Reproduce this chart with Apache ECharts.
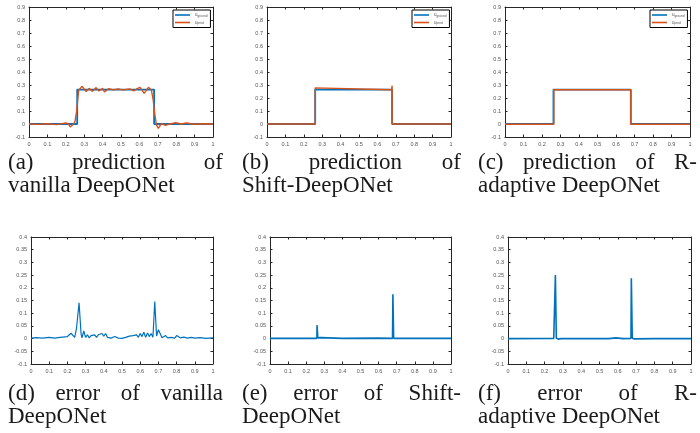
<!DOCTYPE html>
<html>
<head>
<meta charset="utf-8">
<script src="https://cdn.jsdelivr.net/npm/echarts@6/dist/echarts.min.js"></script>
<style>
  html, body { margin: 0; background: #fff; }
  #chart { width: 700px; height: 433px; }
</style>
</head>
<body>
<div id="chart"></div>
<script>
// ---- data ----
// ground truth (same step in all three panels)
const groundX = [0, 0.262, 0.262, 0.68, 0.68, 1];
const groundY = [0, 0, 0.265, 0.265, 0, 0];

// (a) vanilla DeepONet prediction
const predAX = [0, 0.05, 0.1, 0.15, 0.2, 0.212, 0.224, 0.24, 0.25, 0.259, 0.27, 0.289, 0.31, 0.327, 0.345, 0.363, 0.38, 0.4, 0.41, 0.434, 0.457, 0.485, 0.51, 0.548, 0.57, 0.59, 0.604, 0.626, 0.649, 0.665, 0.675, 0.683, 0.693, 0.703, 0.72, 0.741, 0.765, 0.797, 0.828, 0.855, 0.9, 0.95, 1];
const predAY = [0, -0.003, 0.002, -0.005, 0.008, 0.004, -0.023, -0.004, 0.02, 0.1, 0.26, 0.29, 0.25, 0.274, 0.251, 0.28, 0.254, 0.274, 0.246, 0.272, 0.262, 0.27, 0.262, 0.27, 0.254, 0.274, 0.282, 0.236, 0.282, 0.262, 0.185, 0.08, -0.008, -0.033, 0.005, -0.01, 0, 0.01, 0, 0.008, -0.002, 0.002, 0];

// (b) Shift-DeepONet prediction
const predBX = [0, 0.262, 0.262, 0.264, 0.677, 0.68, 0.68, 1];
const predBY = [0, 0, 0.278, 0.263, 0.263, 0.295, 0, 0];

// (c) R-adaptive DeepONet prediction
const predCX = [0, 0.264, 0.264, 0.68, 0.68, 1];
const predCY = [-0.002, -0.002, 0.263, 0.263, -0.002, -0.002];

// (d) error of vanilla DeepONet
const errDX = [0, 0.03, 0.06, 0.1, 0.13, 0.16, 0.2, 0.21, 0.22, 0.23, 0.24, 0.25, 0.264, 0.275, 0.28, 0.29, 0.3, 0.31, 0.32, 0.33, 0.34, 0.35, 0.36, 0.37, 0.38, 0.39, 0.4, 0.41, 0.42, 0.43, 0.44, 0.46, 0.48, 0.5, 0.52, 0.54, 0.55, 0.56, 0.57, 0.58, 0.59, 0.6, 0.61, 0.62, 0.63, 0.64, 0.65, 0.66, 0.67, 0.68, 0.69, 0.7, 0.71, 0.72, 0.73, 0.74, 0.75, 0.77, 0.79, 0.8, 0.82, 0.84, 0.86, 0.88, 0.9, 0.93, 0.96, 1];
const errDY = [0.002, 0.004, 0.002, 0.005, 0.002, 0.005, 0.008, 0.003, 0.021, 0.02, 0.005, 0.04, 0.141, 0.02, 0.003, 0.03, 0.005, 0.015, 0.003, 0.012, 0.005, 0.015, 0.005, 0.015, 0.008, 0.02, 0.01, 0.02, 0.005, 0.012, 0.002, 0.008, 0.002, 0.001, 0.005, 0.01, 0.003, 0.012, 0.005, 0.015, 0.005, 0.02, 0.008, 0.025, 0.005, 0.022, 0.008, 0.02, 0.005, 0.146, 0.01, 0.035, 0.04, 0.003, 0.008, 0.012, 0.003, 0.005, 0.002, 0.012, 0.003, 0.006, 0.002, 0.005, 0.002, 0.004, 0.001, 0.003];

// (e) error of Shift-DeepONet
const errEX = [0, 0.2, 0.259, 0.26, 0.262, 0.264, 0.28, 0.4, 0.6, 0.677, 0.679, 0.681, 0.683, 0.8, 1];
const errEY = [0.001, 0.001, 0.001, 0.053, 0.053, 0.003, 0.004, 0.001, 0.002, 0.001, 0.175, 0.175, 0.001, 0.001, 0.001];

// (f) error of R-adaptive DeepONet
const errFX = [0, 0.25, 0.257, 0.259, 0.262, 0.264, 0.275, 0.29, 0.4, 0.55, 0.59, 0.63, 0.672, 0.674, 0.677, 0.679, 0.69, 0.8, 1];
const errFY = [0, 0.001, 0.001, 0.25, 0.25, 0.001, -0.002, 0, 0, 0, 0.003, 0, 0.001, 0.238, 0.238, 0.001, -0.001, 0, 0];

// tick settings
const xTicks = { min: 0, max: 1, interval: 0.1 };
const predTicks = { min: -0.1, max: 0.9, interval: 0.1 };
const errTicks = { min: -0.1, max: 0.4, interval: 0.05 };

const captions = [
  { x0: 8,   x1: 223, y1: 163, y2: 186, l1: '(a) prediction of', l2: 'vanilla DeepONet' },
  { x0: 242, x1: 461, y1: 163, y2: 186, l1: '(b) prediction of', l2: 'Shift-DeepONet' },
  { x0: 478, x1: 697, y1: 163, y2: 186, l1: '(c) prediction of R-', l2: 'adaptive DeepONet' },
  { x0: 8,   x1: 223, y1: 394, y2: 417, l1: '(d) error of vanilla', l2: 'DeepONet' },
  { x0: 242, x1: 461, y1: 394, y2: 417, l1: '(e) error of Shift-', l2: 'DeepONet' },
  { x0: 478, x1: 697, y1: 394, y2: 417, l1: '(f) error of R-', l2: 'adaptive DeepONet' }
];

// ---- layout ----
const BLUE = '#0072BD', ORANGE = '#D95319', AXIS = '#262626';
const grids = [
  { left: 29,  top: 7,   width: 184, height: 130 },
  { left: 267, top: 7,   width: 184, height: 130 },
  { left: 505, top: 7,   width: 185, height: 130 },
  { left: 31,  top: 237, width: 182, height: 127 },
  { left: 270, top: 237, width: 181, height: 127 },
  { left: 508, top: 237, width: 183, height: 127 }
];

const fmt = v => String(+v.toFixed(2));
const zip = (xs, ys) => xs.map((x, i) => [x, ys[i]]);

function axis(gi, ticks, position, labels) {
  return Object.assign({
    type: 'value', gridIndex: gi, position,
    axisLine: { show: true, onZero: false, lineStyle: { color: AXIS, width: 1 } },
    axisTick: { show: true, inside: true, length: 2.5, lineStyle: { color: AXIS } },
    axisLabel: { show: labels, fontSize: 5.5, color: '#555', margin: 4, fontFamily: 'Liberation Sans', formatter: fmt },
    splitLine: { show: false }
  }, ticks);
}

const xAxis = [], yAxis = [];
grids.forEach((g, i) => {
  const yt = i < 3 ? predTicks : errTicks;
  xAxis.push(axis(i, xTicks, 'bottom', true), axis(i, xTicks, 'top', false));
  yAxis.push(axis(i, yt, 'left', true), axis(i, yt, 'right', false));
});

function line(name, i, xs, ys, color, width) {
  return {
    name, type: 'line', xAxisIndex: 2 * i, yAxisIndex: 2 * i,
    data: zip(xs, ys), showSymbol: false, symbol: 'none',
    lineStyle: { color, width }, itemStyle: { color }, clip: true
  };
}

const series = [
  line('ground', 0, groundX, groundY, BLUE, 1.8),
  line('pred', 0, predAX, predAY, ORANGE, 1.4),
  line('ground', 1, groundX, groundY, BLUE, 1.8),
  line('pred', 1, predBX, predBY, ORANGE, 1.4),
  line('ground', 2, groundX, groundY, BLUE, 1.8),
  line('pred', 2, predCX, predCY, ORANGE, 1.4),
  line('error', 3, errDX, errDY, BLUE, 1.2),
  line('error', 4, errEX, errEY, BLUE, 1.6),
  line('error', 5, errFX, errFY, BLUE, 1.6)
];

const legendPos = [[173, 10], [412, 10], [650, 10]];
const legend = legendPos.map(p => ({
  data: ['ground', 'pred'], left: p[0], top: p[1], orient: 'vertical',
  icon: 'rect', itemWidth: 15, itemHeight: 1.6, itemGap: 2.5,
  padding: [2.5, 3, 2.5, 2], borderColor: '#000', borderWidth: 1, backgroundColor: '#fff',
  selectedMode: false,
  formatter: n => '{u|u}{s|' + n + '}',
  textStyle: {
    rich: {
      u: { fontSize: 4.5, color: '#555', fontFamily: 'Liberation Sans' },
      s: { fontSize: 3.2, color: '#555', fontFamily: 'Liberation Sans', verticalAlign: 'bottom', padding: [2, 0, 0, 0] }
    }
  }
}));

// captions: first line justified, second line left aligned
const CAP_FONT = '23px "Liberation Serif"';
const ctx = document.createElement('canvas').getContext('2d');
ctx.font = CAP_FONT;
const graphic = [];
function word(text, x, y) {
  graphic.push({ type: 'text', x, y, silent: true,
    style: { text, font: CAP_FONT, fill: '#1a1a1a', textVerticalAlign: 'middle' } });
}
captions.forEach(c => {
  const words = c.l1.split(' ');
  const ws = words.map(w => ctx.measureText(w).width);
  const gap = (c.x1 - c.x0 - ws.reduce((a, b) => a + b, 0)) / (words.length - 1);
  let x = c.x0;
  words.forEach((w, i) => { word(w, x, c.y1); x += ws[i] + gap; });
  word(c.l2, c.x0, c.y2);
});

const chart = echarts.init(document.getElementById('chart'), null, { renderer: 'canvas' });
chart.setOption({
  animation: false,
  backgroundColor: '#fff',
  grid: grids,
  xAxis, yAxis, series, legend, graphic
});
</script>
</body>
</html>
